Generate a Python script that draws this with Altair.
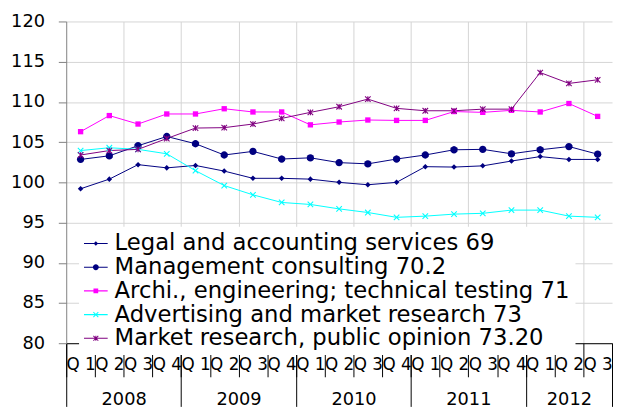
import math
import altair as alt
import pandas as pd

# ---------------- data ----------------
years = ["2008", "2009", "2010", "2011", "2012"]
year_bounds = [0, 4, 8, 12, 16, 19]
quarters = [
    "2008 Q1", "2008 Q2", "2008 Q3", "2008 Q4",
    "2009 Q1", "2009 Q2", "2009 Q3", "2009 Q4",
    "2010 Q1", "2010 Q2", "2010 Q3", "2010 Q4",
    "2011 Q1", "2011 Q2", "2011 Q3", "2011 Q4",
    "2012 Q1", "2012 Q2", "2012 Q3",
]
series_names = [
    "Legal and accounting services 69",
    "Management consulting 70.2",
    "Archi., engineering; technical testing 71",
    "Advertising and market research 73",
    "Market research, public opinion 73.20",
]
legal = [99.2, 100.4, 102.2, 101.8, 102.1, 101.4, 100.5, 100.5, 100.4, 100.0,
         99.7, 100.0, 101.95, 101.9, 102.05, 102.65, 103.2, 102.85, 102.85]
management = [102.85, 103.3, 104.55, 105.7, 104.8, 103.4, 103.85, 102.9, 103.05, 102.45,
              102.3, 102.9, 103.4, 104.05, 104.1, 103.55, 104.05, 104.45, 103.5]
archi = [106.3, 108.3, 107.25, 108.5, 108.5, 109.15, 108.75, 108.75, 107.15, 107.5,
         107.75, 107.7, 107.7, 108.8, 108.7, 108.95, 108.75, 109.8, 108.2]
advertising = [103.95, 104.3, 104.1, 103.55, 101.45, 99.6, 98.45, 97.5, 97.25, 96.7,
               96.25, 95.65, 95.8, 96.05, 96.15, 96.55, 96.55, 95.8, 95.65]
market = [103.4, 103.95, 104.1, 105.45, 106.75, 106.8, 107.25, 107.95, 108.7, 109.4,
          110.35, 109.2, 108.9, 108.9, 109.1, 109.1, 113.65, 112.3, 112.75]
all_values = [legal, management, archi, advertising, market]
colors = ["#000080", "#000080", "#FF00FF", "#00FFFF", "#800080"]
y_ticks = [80, 85, 90, 95, 100, 105, 110, 115, 120]

rows = []
for name, vals in zip(series_names, all_values):
    for i, v in enumerate(vals):
        rows.append({"series": name, "pos": i + 0.5, "val": v})
df = pd.DataFrame(rows)

year_mids = [(a + b) / 2 for a, b in zip(year_bounds[:-1], year_bounds[1:])]
df_bounds = pd.DataFrame({"b": year_bounds})
df_mids = pd.DataFrame({"m": year_mids, "year": years})

W, H = 553, 326
NQ = len(quarters)
BW = W / NQ
FONT = "DejaVu Sans"


# ---------------- marker shapes (custom SVG paths) ----------------
def fmt(v):
    return f"{v:.3f}"


def poly(pts, u):
    return "M" + "L".join(f"{fmt(x / u)},{fmt(y / u)}" for x, y in pts) + "Z"


def diamond(r, u):
    return poly([(0, -r), (r, 0), (0, r), (-r, 0)], u)


def square(r, u):
    return poly([(-r, -r), (r, -r), (r, r), (-r, r)], u)


def circle(r, u, n=16):
    pts = [(r * math.cos(2 * math.pi * i / n), r * math.sin(2 * math.pi * i / n)) for i in range(n)]
    return poly(pts, u)


def xshape(a, t, u):
    h = t / 2 / math.sqrt(2)
    b1 = [(-a + h, -a - h), (a + h, a - h), (a - h, a + h), (-a - h, -a + h)]
    b2 = [(a + h, -a + h), (-a + h, a + h), (-a - h, a - h), (a - h, -a - h)]
    return poly(b1, u) + poly(b2, u)


def star(a, t, u):
    return xshape(a, t, u) + poly([(-t / 2, -a), (t / 2, -a), (t / 2, a), (-t / 2, a)], u)


def hline(half, t, u):
    return poly([(-half, -t / 2), (half, -t / 2), (half, t / 2), (-half, t / 2)], u)


PT_SIZE = 64
u_pt = math.sqrt(PT_SIZE) / 2
pt_shapes = [
    diamond(2.8, u_pt),
    circle(3.7, u_pt),
    square(2.7, u_pt),
    xshape(2.8, 1.1, u_pt),
    star(2.8, 1.1, u_pt),
]

LG_SIZE = 576
u_lg = math.sqrt(LG_SIZE) / 2
ln = hline(12, 1.1, u_lg)
lg_shapes = [
    ln + diamond(2.3, u_lg),
    ln + circle(3.0, u_lg),
    ln + square(2.4, u_lg),
    ln + xshape(2.5, 1.0, u_lg),
    ln + star(2.5, 1.0, u_lg),
]

# ---------------- encodings ----------------
qscale = alt.Scale(domain=[0, NQ], nice=False, zero=False)
quarter_edges = list(range(NQ + 1))

x_main = alt.X(
    "pos:Q",
    scale=qscale,
    axis=alt.Axis(
        orient="bottom",
        title=None,
        values=quarter_edges,
        labelExpr=f"datum.value >= {NQ} ? '' : 'Q ' + (datum.value % 4 + 1)",
        labelOffset=BW / 2,
        labelAngle=0,
        labelFont=FONT,
        labelFontSize=17,
        labelColor="black",
        labelPadding=-20,
        labelOverlap=False,
        labelFlush=False,
        labelBound=False,
        tickSize=34,
        tickColor="black",
        domainColor="black",
        grid=True,
        gridColor="#d4d4d4",
        gridOpacity={"condition": {"test": f"datum.value % 2 == 0 && datum.value > 0 && datum.value < {NQ}",
                                   "value": 1}, "value": 0},
    ),
)

y_enc = alt.Y(
    "val:Q",
    scale=alt.Scale(domain=[80, 120], nice=False, zero=False),
    axis=alt.Axis(
        title=None,
        values=y_ticks,
        labelFont=FONT,
        labelFontSize=18,
        labelColor="black",
        labelPadding=14,
        tickSize=8,
        tickColor="#808080",
        domainColor="#808080",
        gridColor="#d4d4d4",
    ),
)

# lines: stroke channel (own scale, no legend)
lines = alt.Chart(df).mark_line(strokeWidth=1).encode(
    x=x_main,
    y=y_enc,
    stroke=alt.Stroke("series:N", scale=alt.Scale(domain=series_names, range=colors), legend=None),
    detail="series:N",
)

# markers: one layer per series with its own marker shape and colour
point_layers = [
    alt.Chart(df)
    .transform_filter(alt.datum.series == name)
    .mark_point(filled=True, opacity=1, size=PT_SIZE, strokeWidth=0, shape=shp, color=col)
    .encode(x=x_main, y=y_enc)
    for name, shp, col in zip(series_names, pt_shapes, colors)
]

legend_kw = dict(
    title=None,
    orient="none",
    legendX=13,
    legendY=208,
    fillColor="white",
    padding=5,
    labelFont=FONT,
    labelFontSize=23,
    labelColor="black",
    labelLimit=1000,
    labelOffset=7,
    symbolSize=LG_SIZE,
    symbolStrokeWidth=0,
    symbolOpacity=1,
    rowPadding=-8.3,
)

# invisible layer whose colour + shape legend shows a line-and-marker symbol
legend_layer = alt.Chart(df).mark_point(filled=True, opacity=0, size=LG_SIZE, strokeWidth=0).encode(
    x=x_main,
    y=y_enc,
    color=alt.Color(
        "series:N",
        scale=alt.Scale(domain=series_names, range=colors),
        legend=alt.Legend(**legend_kw),
    ),
    shape=alt.Shape(
        "series:N",
        scale=alt.Scale(domain=series_names, range=lg_shapes),
        legend=alt.Legend(**legend_kw),
    ),
)

inner = alt.layer(lines, *point_layers, legend_layer).resolve_scale(
    color="independent", shape="independent"
)

year_ticks_layer = alt.Chart(df_bounds).mark_point(opacity=0).encode(
    x=alt.X(
        "b:Q",
        scale=qscale,
        axis=alt.Axis(
            orient="bottom",
            title=None,
            values=year_bounds,
            labels=False,
            tickSize=64,
            tickColor="black",
            domain=False,
            grid=False,
        ),
    ),
    y=alt.value(0),
)

year_mids_expr = " : ".join(f"datum.value == {m} ? '{y}'" for m, y in zip(year_mids, years)) + " : ''"

year_labels_layer = alt.Chart(df_mids).mark_point(opacity=0).encode(
    x=alt.X(
        "m:Q",
        scale=qscale,
        axis=alt.Axis(
            orient="bottom",
            title=None,
            values=year_mids,
            labelExpr=year_mids_expr,
            labelFont=FONT,
            labelFontSize=18,
            labelColor="black",
            labelPadding=48,
            labelOverlap=False,
            labelFlush=False,
            labelBound=False,
            ticks=False,
            domain=False,
            grid=False,
        ),
    ),
    y=alt.value(0),
)

chart = (
    alt.layer(inner, year_ticks_layer, year_labels_layer)
    .resolve_scale(x="independent")
    .properties(
        width=W,
        height=H,
        autosize=alt.AutoSizeParams(type="none"),
        padding={"left": 59, "top": 11, "right": 1, "bottom": 64},
    )
    .configure_view(stroke=None)
)

chart.save("out.html", embed_options={"renderer": "svg", "actions": False})
